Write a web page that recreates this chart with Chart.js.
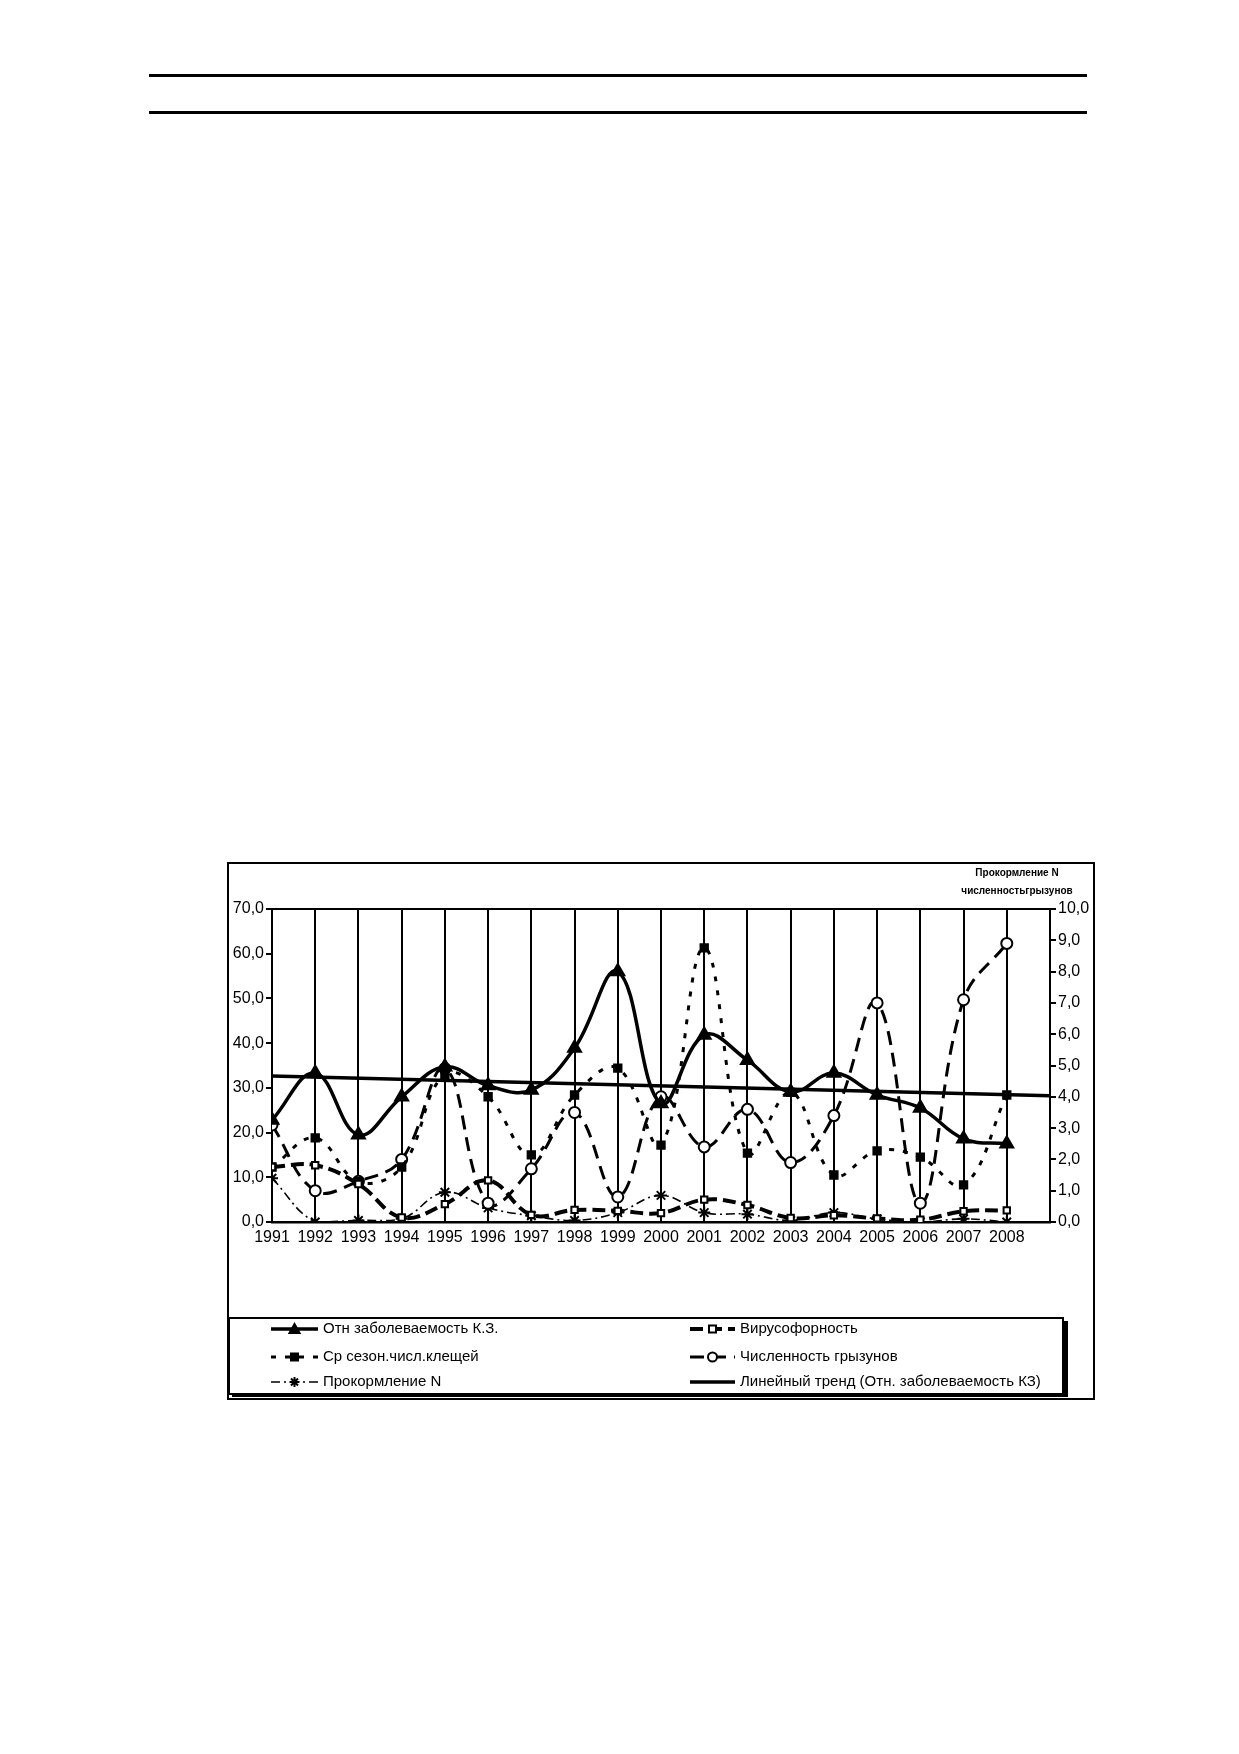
<!DOCTYPE html>
<html>
<head>
<meta charset="utf-8">
<script src="https://cdn.jsdelivr.net/npm/chart.js@4/dist/chart.umd.min.js"></script>
<style>
  body { margin: 0; background: #fff; }
  .rule { position: absolute; left: 149px; width: 938px; height: 3px; background: #000; }
  #box { position: absolute; left: 227px; top: 862px; width: 864px; height: 534px; border: 2px solid #000; }
  #myChart { display: block; }
</style>
</head>
<body>
<div class="rule" style="top:74px"></div>
<div class="rule" style="top:111px"></div>
<div id="box"><canvas id="myChart" width="864" height="534"></canvas></div>
<script>
// years on the x axis
var years = [1991, 1992, 1993, 1994, 1995, 1996, 1997, 1998, 1999, 2000, 2001, 2002, 2003, 2004, 2005, 2006, 2007, 2008];
// left axis series
var incidence     = [22.8, 33.3, 19.5, 28.0, 34.7, 30.5, 29.5, 38.9, 56.0, 26.5, 41.8, 36.2, 29.1, 33.3, 28.4, 25.5, 18.6, 17.5];
var virusCarriage = [12.3, 12.7, 8.5, 1.0, 4.0, 9.3, 1.6, 2.7, 2.5, 2.0, 5.0, 3.8, 0.9, 1.5, 0.8, 0.5, 2.4, 2.6];
var tickAbundance = [12.3, 18.8, 9.0, 12.3, 33.0, 28.0, 15.0, 28.4, 34.4, 17.2, 61.3, 15.4, 29.0, 10.5, 15.9, 14.5, 8.3, 28.4];
// right axis series
var rodents  = [3.1, 1.0, 1.3, 2.0, 4.9, 0.6, 1.7, 3.5, 0.8, 4.0, 2.4, 3.6, 1.9, 3.4, 7.0, 0.6, 7.1, 8.9];
var feedingN = [1.4, 0.0, 0.05, 0.1, 0.95, 0.45, 0.2, 0.05, 0.3, 0.85, 0.3, 0.25, 0.05, 0.3, 0.1, 0.0, 0.1, 0.0];
// tick labels
var leftTicks = [0, 10, 20, 30, 40, 50, 60, 70];
var rightTicks = [0, 1, 2, 3, 4, 5, 6, 7, 8, 9, 10];

var fontName = "'Liberation Sans', Arial, sans-serif";

function pts(arr) {
    return years.map(function (yr, i) { return { x: yr, y: arr[i] }; });
}

// least squares trend of the incidence, carried to the right axis
var n = years.length, mx = 0, my = 0, sxy = 0, sxx = 0;
for (var i = 0; i < n; i++) { mx += years[i] / n; my += incidence[i] / n; }
for (var i = 0; i < n; i++) { sxy += (years[i] - mx) * (incidence[i] - my); sxx += (years[i] - mx) * (years[i] - mx); }
var slope = sxy / sxx;
var trendX = [years[0], years[n - 1] + 1];
var trend = trendX.map(function (x) { return { x: x, y: my + slope * (x - mx) }; });

function fmt(v) { return v.toFixed(1).replace('.', ','); }

var legendRows = [
    ['Отн заболеваемость К.З.', 'Вирусофорность'],
    ['Ср сезон.числ.клещей', 'Численность грызунов'],
    ['Прокормление N', 'Линейный тренд (Отн. заболеваемость КЗ)']
];

function marker(ctx, style, r, fill, x, y) {
    ctx.save();
    ctx.lineWidth = 2;
    ctx.strokeStyle = '#000';
    ctx.fillStyle = fill;
    ctx.setLineDash([]);
    ctx.beginPath();
    if (style === 'triangle') {
        ctx.moveTo(x, y - r); ctx.lineTo(x + r, y + r * 0.8); ctx.lineTo(x - r, y + r * 0.8); ctx.closePath();
        ctx.fill(); ctx.stroke();
    } else if (style === 'rect') {
        ctx.rect(x - r, y - r, 2 * r, 2 * r); ctx.fill(); ctx.stroke();
    } else if (style === 'circle') {
        ctx.arc(x, y, r, 0, Math.PI * 2); ctx.fill(); ctx.stroke();
    } else if (style === 'star') {
        ctx.moveTo(x - r, y); ctx.lineTo(x + r, y);
        ctx.moveTo(x - r * 0.7, y - r * 0.7); ctx.lineTo(x + r * 0.7, y + r * 0.7);
        ctx.moveTo(x - r * 0.7, y + r * 0.7); ctx.lineTo(x + r * 0.7, y - r * 0.7);
        ctx.moveTo(x, y - r); ctx.lineTo(x, y + r);
        ctx.stroke();
    }
    ctx.restore();
}

var extras = {
    id: 'extras',
    afterDraw: function (chart) {
        var ctx = chart.ctx;
        ctx.save();
        // right axis caption
        ctx.fillStyle = '#000';
        ctx.font = "bold 10px " + fontName;
        ctx.textAlign = 'center';
        ctx.textBaseline = 'middle';
        ctx.fillText('Прокормление N', 788, 9);
        ctx.fillText('численностьгрызунов', 788, 27);

        // legend box with shadow
        ctx.fillStyle = '#000';
        ctx.fillRect(3, 457, 836, 76);
        ctx.fillStyle = '#fff';
        ctx.fillRect(0, 454, 834, 76);
        ctx.strokeStyle = '#000';
        ctx.lineWidth = 2;
        ctx.strokeRect(0, 454, 834, 76);

        var rowY = [465, 493, 518];
        var lineX = [[42, 89], [461, 506]];
        var textX = [94, 511];
        ctx.font = "15px " + fontName;
        ctx.textAlign = 'left';
        ctx.textBaseline = 'middle';
        for (var r = 0; r < 3; r++) {
            for (var c = 0; c < 2; c++) {
                var ds = chart.data.datasets[r * 2 + c];
                var y = rowY[r];
                ctx.save();
                ctx.strokeStyle = '#000';
                ctx.lineWidth = ds.borderWidth;
                ctx.setLineDash(ds.borderDash || []);
                ctx.beginPath();
                ctx.moveTo(lineX[c][0], y);
                ctx.lineTo(lineX[c][1], y);
                ctx.stroke();
                ctx.restore();
                if (ds.pointRadius > 0) {
                    marker(ctx, ds.pointStyle, ds.pointRadius - 1, ds.pointBackgroundColor || '#000',
                        (lineX[c][0] + lineX[c][1]) / 2, y);
                }
                ctx.fillStyle = '#000';
                ctx.fillText(legendRows[r][c], textX[c], y);
            }
        }
        ctx.restore();
    }
};

var ctx = document.getElementById('myChart').getContext('2d');
var myChart = new Chart(ctx, {
    type: 'line',
    data: {
        datasets: [{
            label: legendRows[0][0],
            data: pts(incidence),
            yAxisID: 'y',
            borderColor: '#000',
            backgroundColor: '#000',
            pointBackgroundColor: '#000',
            borderWidth: 3.5,
            pointStyle: 'triangle',
            pointRadius: 6,
            tension: 0.4
        }, {
            label: legendRows[0][1],
            data: pts(virusCarriage),
            yAxisID: 'y',
            borderColor: '#000',
            pointBackgroundColor: '#fff',
            pointBorderColor: '#000',
            pointBorderWidth: 2,
            borderWidth: 4,
            borderDash: [13, 6],
            pointStyle: 'rect',
            pointRadius: 4.5,
            tension: 0.4
        }, {
            label: legendRows[1][0],
            data: pts(tickAbundance),
            yAxisID: 'y',
            borderColor: '#000',
            pointBackgroundColor: '#000',
            borderWidth: 3,
            borderDash: [5, 9],
            pointStyle: 'rect',
            pointRadius: 4.5,
            tension: 0.4
        }, {
            label: legendRows[1][1],
            data: pts(rodents),
            yAxisID: 'y1',
            borderColor: '#000',
            pointBackgroundColor: '#fff',
            pointBorderColor: '#000',
            pointBorderWidth: 2,
            borderWidth: 3,
            borderDash: [14, 8],
            pointStyle: 'circle',
            pointRadius: 5.5,
            tension: 0.4
        }, {
            label: legendRows[2][0],
            data: pts(feedingN),
            yAxisID: 'y1',
            borderColor: '#000',
            pointBackgroundColor: '#000',
            pointBorderWidth: 2,
            borderWidth: 1.6,
            borderDash: [9, 4, 2, 4],
            pointStyle: 'star',
            pointRadius: 6,
            tension: 0.4
        }, {
            label: legendRows[2][1],
            data: trend,
            yAxisID: 'y',
            borderColor: '#000',
            borderWidth: 3.5,
            pointRadius: 0,
            tension: 0
        }]
    },
    options: {
        responsive: false,
        animation: false,
        layout: { padding: { top: 45, left: 0, right: 0, bottom: 0 } },
        plugins: {
            legend: { display: false },
            tooltip: { enabled: false }
        },
        scales: {
            x: {
                type: 'linear',
                min: years[0],
                max: years[years.length - 1] + 1,
                afterFit: function (s) { s.height = 176; },
                ticks: {
                    stepSize: 1,
                    autoSkip: false,
                    maxRotation: 0,
                    padding: 6,
                    color: '#000',
                    font: { family: fontName, size: 16 },
                    callback: function (v) { return v <= years[years.length - 1] ? String(v) : ''; }
                },
                grid: { color: '#000', lineWidth: 2, drawTicks: false },
                border: { color: '#000', width: 2.5 }
            },
            y: {
                position: 'left',
                min: leftTicks[0],
                max: leftTicks[leftTicks.length - 1],
                afterFit: function (s) { s.width = 43; },
                ticks: {
                    stepSize: 10,
                    padding: 2,
                    color: '#000',
                    font: { family: fontName, size: 16 },
                    callback: function (v) { return fmt(v); }
                },
                grid: {
                    color: function (c) { return c.tick && c.tick.value === 70 ? '#000' : 'rgba(0,0,0,0)'; },
                    tickColor: '#000',
                    tickLength: 6,
                    lineWidth: 2
                },
                border: { color: '#000', width: 2 }
            },
            y1: {
                position: 'right',
                min: rightTicks[0],
                max: rightTicks[rightTicks.length - 1],
                afterFit: function (s) { s.width = 43; },
                ticks: {
                    stepSize: 1,
                    padding: 2,
                    color: '#000',
                    font: { family: fontName, size: 16 },
                    callback: function (v) { return fmt(v); }
                },
                grid: { drawOnChartArea: false, tickColor: '#000', tickLength: 6, lineWidth: 2 },
                border: { color: '#000', width: 2 }
            }
        }
    },
    plugins: [extras]
});
</script>
</body>
</html>
